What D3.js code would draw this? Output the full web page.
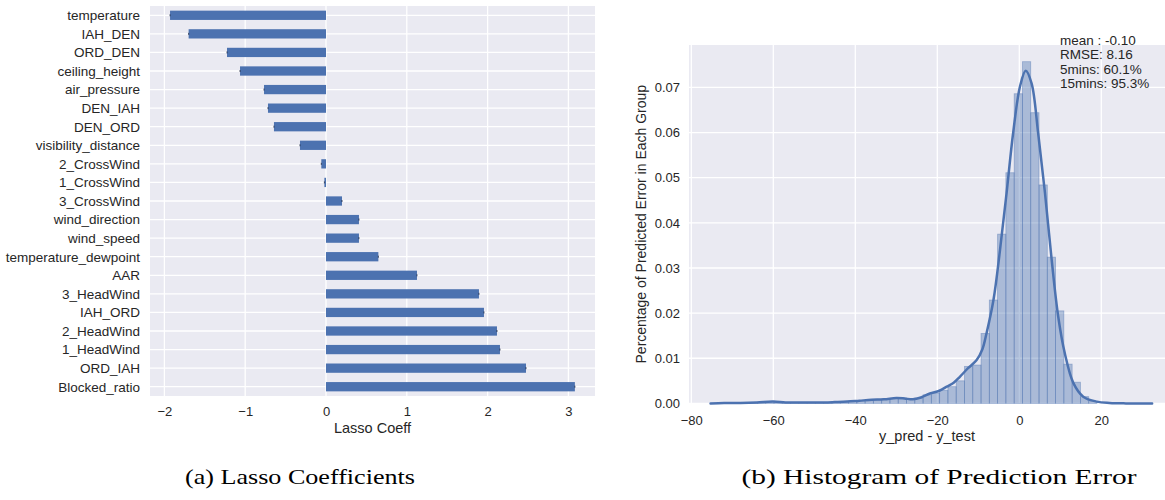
<!DOCTYPE html>
<html>
<head>
<meta charset="utf-8">
<script src="https://cdn.jsdelivr.net/npm/d3@7"></script>
<style>
  body { margin: 0; background: #ffffff; }
  svg { display: block; }
  text { font-family: "Liberation Sans", Arial, sans-serif; fill: #262626; }
  .caption { font-family: "Liberation Serif", "DejaVu Serif", serif; fill: #000; }
</style>
</head>
<body>
<svg id="chart" width="1165" height="500"></svg>
<script>
// ---- Lasso coefficients (top to bottom) ----
const features = [
  "temperature", "IAH_DEN", "ORD_DEN", "ceiling_height", "air_pressure",
  "DEN_IAH", "DEN_ORD", "visibility_distance", "2_CrossWind", "1_CrossWind",
  "3_CrossWind", "wind_direction", "wind_speed", "temperature_dewpoint", "AAR",
  "3_HeadWind", "IAH_ORD", "2_HeadWind", "1_HeadWind", "ORD_IAH", "Blocked_ratio"
];
const coefficients = [
  -1.93, -1.70, -1.225, -1.064, -0.767,
  -0.718, -0.644, -0.322, -0.058, -0.02,
  0.198, 0.408, 0.408, 0.648, 1.126,
  1.893, 1.955, 2.116, 2.153, 2.475, 3.08
];
const coefTicks = [-2, -1, 0, 1, 2, 3];

// ---- Prediction error histogram (density per bin) ----
const histStart = -71.95;
const histBinWidth = 2.02;
const histDensity = [
  0.0001, 0.0001, 0.0001, 0.0002, 0.0001, 0.0004, 0.0002, 0.0001, 0.0001, 0.0002,
  0.0002, 0.0002, 0.0002, 0.0003, 0.0003, 0.0004, 0.0005, 0.0006, 0.0008, 0.0010,
  0.0011, 0.0012, 0.0010, 0.0012, 0.0019, 0.0023, 0.0029, 0.0037, 0.0050, 0.0082,
  0.0085, 0.0155, 0.0229, 0.0375, 0.0511, 0.0686, 0.0757, 0.0644, 0.0484, 0.0324,
  0.0205, 0.0087, 0.0047, 0.0015, 0.0004
];
// kernel density estimate of the same errors
const kdeX = [
  -75.3, -72, -68, -64, -60, -57, -53, -49, -45, -42, -39, -36, -33, -30, -28, -26,
  -24, -21.8, -19.5, -17.7, -16, -14.5, -12.5, -10.4, -9, -8, -6.3, -4.7, -3.1, -1.5,
  0.17, 1.56, 3.0, 4.6, 6.27, 7.9, 9.5, 11.1, 13.2, 15.6, 18.9, 22, 26, 32.4
];
const kdeY = [
  0.0000, 0.0001, 0.0001, 0.0002, 0.0004, 0.0002, 0.0002, 0.0002, 0.0003, 0.0004,
  0.0006, 0.0008, 0.0009, 0.0012, 0.0011, 0.0009, 0.0013, 0.0022, 0.0028, 0.0037,
  0.0046, 0.0059, 0.0078, 0.0096, 0.0120, 0.0155, 0.0229, 0.0340, 0.0466, 0.0599,
  0.0702, 0.0737, 0.0709, 0.0599, 0.0466, 0.0318, 0.0192, 0.0111, 0.0045, 0.0015,
  0.0004, 0.0001, 0.0000, 0.0000
];
const errTicks = [-80, -60, -40, -20, 0, 20];
const densityTicks = [0, 0.01, 0.02, 0.03, 0.04, 0.05, 0.06, 0.07];
const statLines = ["mean : -0.10", "RMSE: 8.16", "5mins: 60.1%", "15mins: 95.3%"];

const BG = "#EAEAF2";
const BLUE = "#4C72B0";
const svg = d3.select("#chart");

// =================== (a) Lasso coefficients ===================
{
  const L = 150, R = 595, T = 6, B = 396;
  const x = d3.scaleLinear().domain([-2.178, 3.329]).range([L, R]);
  const y = d3.scalePoint().domain(features).range([T, B]).padding(0.5);
  const barH = y.step() * 0.5;
  const g = svg.append("g");

  g.append("rect").attr("x", L).attr("y", T).attr("width", R - L).attr("height", B - T).attr("fill", BG);

  g.selectAll("line.vgrid").data(coefTicks).join("line")
    .attr("x1", d => x(d)).attr("x2", d => x(d)).attr("y1", T).attr("y2", B)
    .attr("stroke", "#fff").attr("stroke-width", 1.3);
  g.selectAll("line.hgrid").data(features).join("line")
    .attr("x1", L).attr("x2", R).attr("y1", d => y(d)).attr("y2", d => y(d))
    .attr("stroke", "#fff").attr("stroke-width", 1.3);

  const rows = features.map((f, i) => ({ f, v: coefficients[i] }));
  g.selectAll("rect.bar").data(rows).join("rect")
    .attr("x", d => x(Math.min(0, d.v)))
    .attr("width", d => Math.abs(x(d.v) - x(0)))
    .attr("y", d => y(d.f) - barH / 2)
    .attr("height", barH)
    .attr("fill", BLUE);
  // small end marks
  g.selectAll("line.tip").data(rows).join("line")
    .attr("x1", d => x(d.v)).attr("x2", d => x(d.v))
    .attr("y1", d => y(d.f) - 1).attr("y2", d => y(d.f) + 1)
    .attr("stroke", "#1f2a44").attr("stroke-width", 0.8);

  const xAxis = d3.axisBottom(x).tickValues(coefTicks).tickSize(0).tickPadding(11).tickFormat(d3.format("d"));
  const ax = g.append("g").attr("transform", `translate(0,${B})`).call(xAxis);
  ax.select(".domain").remove();
  ax.selectAll("text").style("font-size", "13px").attr("fill", "#262626");

  const yAxis = d3.axisLeft(y).tickSize(0).tickPadding(10);
  const ay = g.append("g").attr("transform", `translate(${L},0)`).call(yAxis);
  ay.select(".domain").remove();
  ay.selectAll("text").style("font-size", "13.5px").attr("fill", "#262626");

  g.append("text").attr("x", (L + R) / 2).attr("y", 433).attr("text-anchor", "middle")
    .style("font-size", "14.5px").text("Lasso Coeff");

  svg.append("text").attr("class", "caption").attr("x", 300).attr("y", 484)
    .attr("text-anchor", "middle").style("font-size", "21px")
    .attr("textLength", 230).attr("lengthAdjust", "spacingAndGlyphs")
    .text("(a) Lasso Coefficients");
}

// =================== (b) Histogram of prediction error ===================
{
  const L = 689, R = 1165, T = 45, B = 403.4;
  const x = d3.scaleLinear().domain([-80.56, 35.54]).range([L, R]);
  const y = d3.scaleLinear().domain([0, 0.0794]).range([B, T]);
  const g = svg.append("g");

  g.append("rect").attr("x", L).attr("y", T).attr("width", R - L).attr("height", B - T).attr("fill", BG);

  g.selectAll("line.vgrid").data(errTicks).join("line")
    .attr("x1", d => x(d)).attr("x2", d => x(d)).attr("y1", T).attr("y2", B)
    .attr("stroke", "#fff").attr("stroke-width", 1.3);
  g.selectAll("line.hgrid").data(densityTicks).join("line")
    .attr("x1", L).attr("x2", R).attr("y1", d => y(d)).attr("y2", d => y(d))
    .attr("stroke", "#fff").attr("stroke-width", 1.3);

  const bins = histDensity.map((v, i) => ({ x0: histStart + i * histBinWidth, x1: histStart + (i + 1) * histBinWidth, v }));
  g.selectAll("rect.bin").data(bins).join("rect")
    .attr("x", d => x(d.x0)).attr("width", d => x(d.x1) - x(d.x0))
    .attr("y", d => y(d.v)).attr("height", d => y(0) - y(d.v))
    .attr("fill", BLUE).attr("fill-opacity", 0.4)
    .attr("stroke", BLUE).attr("stroke-opacity", 0.45).attr("stroke-width", 0.8);

  const kde = kdeX.map((v, i) => [v, kdeY[i]]);
  g.append("path").datum(kde)
    .attr("d", d3.line().x(d => x(d[0])).y(d => y(d[1])).curve(d3.curveCatmullRom.alpha(0.5)))
    .attr("fill", "none").attr("stroke", BLUE).attr("stroke-width", 2.5)
    .attr("stroke-linejoin", "round").attr("stroke-linecap", "round");

  const xAxis = d3.axisBottom(x).tickValues(errTicks).tickSize(0).tickPadding(12).tickFormat(d3.format("d"));
  const ax = g.append("g").attr("transform", `translate(0,${B})`).call(xAxis);
  ax.select(".domain").remove();
  ax.selectAll("text").style("font-size", "13px").attr("fill", "#262626");

  const yAxis = d3.axisLeft(y).tickValues(densityTicks).tickSize(0).tickPadding(9).tickFormat(d3.format(".2f"));
  const ay = g.append("g").attr("transform", `translate(${L},0)`).call(yAxis);
  ay.select(".domain").remove();
  ay.selectAll("text").style("font-size", "13px").attr("fill", "#262626");

  g.append("text").attr("x", (L + R) / 2).attr("y", 441).attr("text-anchor", "middle")
    .style("font-size", "14.5px").text("y_pred - y_test");

  g.append("text").attr("transform", `translate(646,${(T + B) / 2}) rotate(-90)`)
    .attr("text-anchor", "middle").style("font-size", "14px")
    .text("Percentage of Predicted Error in Each Group");

  g.selectAll("text.stat").data(statLines).join("text")
    .attr("x", 1060).attr("y", (d, i) => 45 + i * 14.3)
    .style("font-size", "13.5px").text(d => d);

  svg.append("text").attr("class", "caption").attr("x", 939).attr("y", 484)
    .attr("text-anchor", "middle").style("font-size", "21px")
    .attr("textLength", 395).attr("lengthAdjust", "spacingAndGlyphs")
    .text("(b) Histogram of Prediction Error");
}
</script>
</body>
</html>
